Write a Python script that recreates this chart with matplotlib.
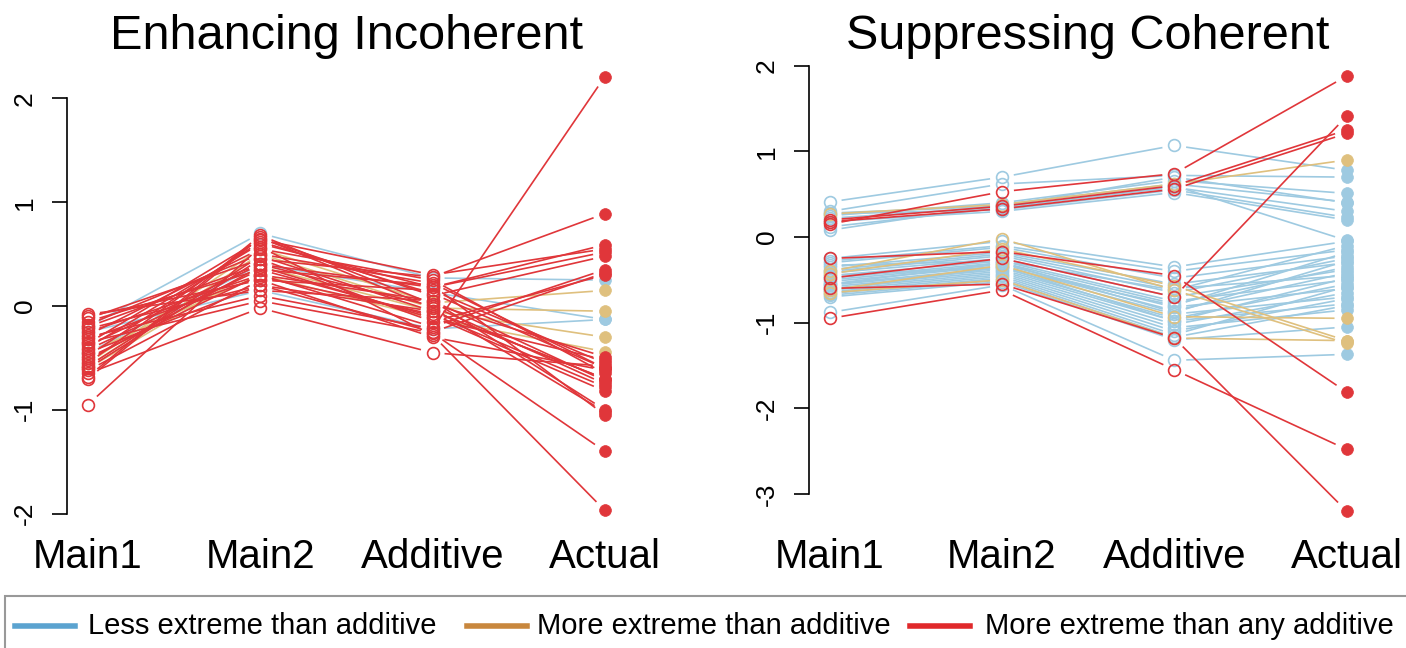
import matplotlib

matplotlib.use("Agg")
import matplotlib.pyplot as plt
from matplotlib.lines import Line2D
from matplotlib.patches import Rectangle
import numpy as np

plt.rcParams["font.family"] = ["Liberation Sans", "DejaVu Sans"]

stages = ["Main1", "Main2", "Additive", "Actual"]
group_labels = [
    "Less extreme than additive",
    "More extreme than additive",
    "More extreme than any additive",
]
# 0 = less extreme, 1 = more extreme than additive, 2 = more extreme than any additive
line_colors = ["#9ecae1", "#dfc07e", "#e0363a"]
legend_colors = ["#5ba3d0", "#c8873d", "#e0292b"]

# ---- Enhancing incoherent ----
enh_main1 = [-0.20, -0.45, -0.25,
             -0.55, -0.58, -0.60, -0.45,
             -0.95, -0.30, -0.12, -0.35, -0.25, -0.15, -0.20, -0.40, -0.55, -0.50,
             -0.60, -0.45, -0.68, -0.10, -0.18, -0.28, -0.22, -0.38, -0.32, -0.42,
             -0.48, -0.52, -0.58, -0.70, -0.62, -0.08, -0.36, -0.65]
enh_main2 = [0.70, 0.40, 0.15,
             0.55, 0.50, 0.38, 0.30,
             0.57, 0.10, 0.45, 0.05, 0.30, 0.35, 0.40, 0.60, 0.65, 0.30,
             0.45, 0.20, 0.68, 0.25, 0.50, 0.55, 0.20, 0.40, 0.28, 0.35,
             0.62, 0.38, 0.48, 0.66, 0.25, 0.15, 0.64, -0.02]
enh_additive = [0.27, 0.13, -0.22,
                0.03, -0.02, -0.05, -0.12,
                -0.28, -0.22, 0.28, -0.26, 0.05, 0.20, 0.18, 0.18, 0.10, -0.20,
                -0.15, -0.25, 0.02, 0.15, 0.22, 0.25, -0.05, 0.00, -0.08, -0.10,
                0.12, -0.12, -0.05, -0.02, -0.30, 0.05, 0.30, -0.45]
enh_actual = [0.25, -0.13, -0.13,
              0.15, -0.05, -0.30, -0.44,
              -1.97, 2.21, 0.89, -1.40, -1.00, -1.05, 0.59, 0.52, 0.48, 0.35,
              0.30, 0.32, -0.49, -0.55, -0.60, -0.65, -0.70, -0.75, -0.78, -0.82,
              -0.60, -0.52, -0.70, -1.02, -0.62, -0.72, 0.55, -0.58]
enh_group = [0, 0, 0,
             1, 1, 1, 1,
             2, 2, 2, 2, 2, 2, 2, 2, 2, 2,
             2, 2, 2, 2, 2, 2, 2, 2, 2, 2,
             2, 2, 2, 2, 2, 2, 2, 2]

# ---- Suppressing coherent ----
sup_main1 = [0.41, 0.30, 0.25, 0.08, 0.22, 0.27, 0.12, 0.28, 0.18,
             -0.25, -0.28, -0.30, -0.35, -0.38, -0.40, -0.42, -0.45, -0.48, -0.50,
             -0.52, -0.55, -0.56, -0.58, -0.60, -0.62, -0.64, -0.66, -0.68, -0.70,
             -0.88, -0.33, -0.45, -0.55, -0.62,
             0.27, -0.43, -0.62, -0.65, -0.40,
             0.15, 0.20, 0.18, -0.95, -0.60, -0.25, -0.48]
sup_main2 = [0.70, 0.62, 0.40, 0.38, 0.35, 0.32, 0.34, 0.36, 0.30,
             -0.05, -0.10, -0.12, -0.18, -0.20, -0.22, -0.25, -0.28, -0.30, -0.32,
             -0.34, -0.36, -0.38, -0.40, -0.42, -0.44, -0.46, -0.48, -0.50, -0.52,
             -0.56, -0.28, -0.35, -0.30, -0.35,
             0.38, -0.14, -0.33, -0.50, -0.02,
             0.53, 0.36, 0.33, -0.62, -0.55, -0.17, -0.25]
sup_additive = [1.07, 0.72, 0.66, 0.62, 0.58, 0.55, 0.60, 0.70, 0.52,
                -0.35, -0.40, -0.48, -0.55, -0.60, -0.65, -0.70, -0.75, -0.78, -0.82,
                -0.86, -0.90, -0.95, -0.98, -1.02, -1.06, -1.10, -1.14, -1.17, -1.20,
                -1.44, -0.62, -0.80, -0.88, -0.98,
                0.62, -0.57, -0.93, -1.18, -0.62,
                0.74, 0.60, 0.56, -1.55, -1.18, -0.45, -0.70]
sup_actual = [0.78, 0.70, 0.51, 0.41, 0.30, 0.23, -0.04, 0.40, 0.20,
              -0.05, -0.15, -0.22, -0.30, -0.45, -0.25, -0.38, -0.50, -0.35, -0.60,
              -0.42, -0.70, -0.55, -0.78, -0.65, -0.85, -0.72, -0.58, -0.80, -1.05,
              -1.37, -0.10, -0.18, -0.28, -0.48,
              0.90, -1.21, -0.95, -1.21, -1.24,
              1.88, 1.25, 1.21, -2.48, -3.20, -1.81, 1.41]
sup_group = [0] * 34 + [1] * 5 + [2] * 7


def draw_profiles(ax, main1, main2, additive, actual, group, gap=12):
    # lines stop short of each point, like R's type = "b"
    x = np.arange(1, 5)
    trans = ax.transData
    inv = trans.inverted()
    order = sorted(range(len(group)), key=lambda i: group[i])
    for i in order:
        ys = np.array([main1[i], main2[i], additive[i], actual[i]])
        c = line_colors[group[i]]
        pts = trans.transform(np.column_stack([x, ys]))
        for a, b in zip(pts[:-1], pts[1:]):
            d = b - a
            length = np.hypot(*d)
            if length <= 2 * gap:
                continue
            u = d / length
            seg = inv.transform(np.array([a + u * gap, b - u * gap]))
            ax.plot(seg[:, 0], seg[:, 1], color=c, lw=1.2, solid_capstyle="butt")
        ax.plot(x[:3], ys[:3], "o", mfc="none", mec=c, ms=8.5, mew=1.2, ls="none")
        ax.plot(x[3], ys[3], "o", color=c, ms=8.5, mec=c, mew=0.5)


def style_axis(ax, title, yticks, ylim):
    ax.set_xlim(0.88, 4.12)
    ax.set_ylim(*ylim)
    for side in ("top", "right", "bottom"):
        ax.spines[side].set_visible(False)
    ax.spines["left"].set_bounds(yticks[0], yticks[-1])
    ax.spines["left"].set_linewidth(1.2)
    ax.set_yticks(yticks)
    ax.set_yticklabels([str(t) for t in yticks], rotation=90, va="center")
    ax.tick_params(axis="y", length=10.8, width=1.2, pad=11, labelsize=19)
    ax.set_xticks([1, 2, 3, 4])
    ax.set_xticklabels(stages)
    ax.tick_params(axis="x", length=0, pad=7, labelsize=29)
    ax.set_title(title, fontsize=35, pad=3)


fig = plt.figure(figsize=(14.06, 6.48), dpi=100)

ax1 = fig.add_axes([0.0479, 0.185, 0.397, 0.724])
style_axis(ax1, "Enhancing Incoherent", [-2, -1, 0, 1, 2], (-2.14, 2.38))
draw_profiles(ax1, enh_main1, enh_main2, enh_additive, enh_actual, enh_group)

ax2 = fig.add_axes([0.5754, 0.185, 0.397, 0.724])
style_axis(ax2, "Suppressing Coherent", [-3, -2, -1, 0, 1, 2], (-3.4, 2.08))
draw_profiles(ax2, sup_main1, sup_main2, sup_additive, sup_actual, sup_group)

# legend strip along the bottom
W, H = 1406, 648
fig.patches.append(Rectangle((5 / W, -0.1), 1.2, (H - 596) / H + 0.1,
                             transform=fig.transFigure, fill=False,
                             edgecolor="#999999", lw=1.5))
swatch_x = [15, 467, 910]
text_x = [88, 537, 985]
ly = (H - 626) / H
for sx, tx, col, lab in zip(swatch_x, text_x, legend_colors, group_labels):
    fig.lines.append(Line2D([sx / W, (sx + 60) / W], [ly, ly], transform=fig.transFigure,
                            color=col, lw=4))
    fig.text(tx / W, ly, lab, fontsize=21, va="center", ha="left")

plt.savefig("out.png", dpi=100)
plt.close(fig)
